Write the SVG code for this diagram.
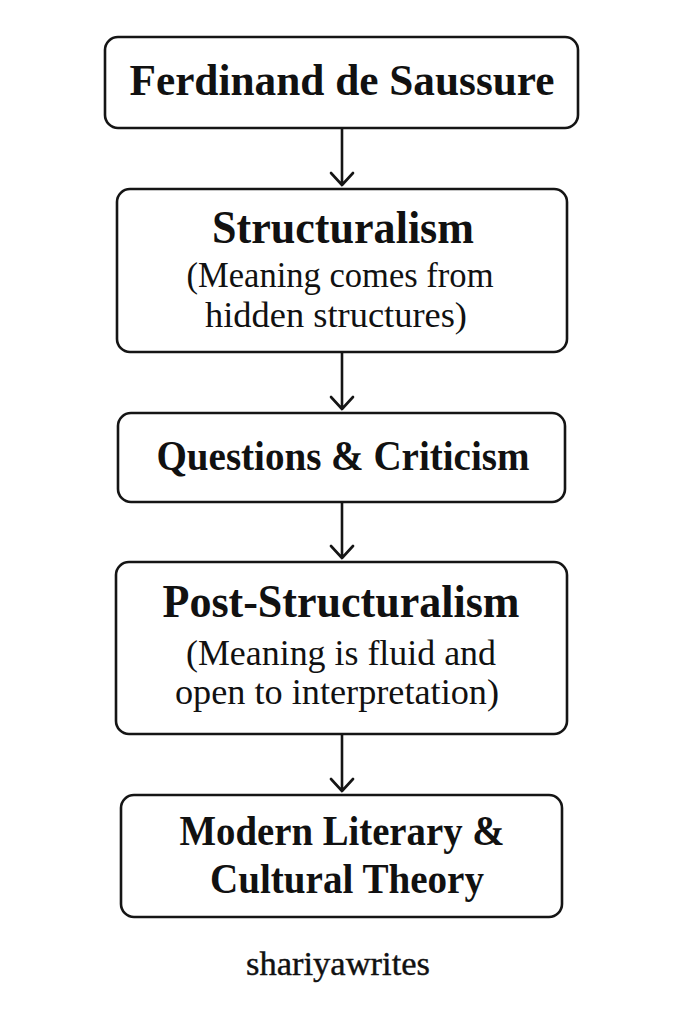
<svg xmlns="http://www.w3.org/2000/svg" width="683" height="1024" viewBox="0 0 683 1024">
<style>
.box{fill:#fff;stroke:#151515;stroke-width:2.6}
.t{font-family:"Liberation Serif","Times New Roman",serif;font-weight:bold;fill:#111;text-anchor:middle}
.s{font-family:"Liberation Serif","Times New Roman",serif;fill:#111;text-anchor:middle}
.c{fill:none;stroke:#151515;stroke-width:2.6;stroke-linecap:round;stroke-linejoin:round}
</style>
<rect width="683" height="1024" fill="#fff"/>
<g id="connectors">
<path class="c" d="M342 129V184M331 173L342 185L353 173"/>
<path class="c" d="M342 353V408M331 397L342 409L353 397"/>
<path class="c" d="M342 503V557M331 546L342 558L353 546"/>
<path class="c" d="M342 735V790M331 779L342 791L353 779"/>
</g>
<g id="n1">
<rect class="box" x="105" y="37" width="473" height="91" rx="13"/>
<text class="t" x="342" y="95" font-size="45" textLength="425" lengthAdjust="spacingAndGlyphs">Ferdinand de Saussure</text>
</g>
<g id="n2">
<rect class="box" x="117" y="189" width="450" height="163" rx="13"/>
<text class="t" x="343" y="243" font-size="46" textLength="262" lengthAdjust="spacingAndGlyphs">Structuralism</text>
<text class="s" x="340" y="287" font-size="36" textLength="307" lengthAdjust="spacingAndGlyphs">(Meaning comes from</text>
<text class="s" x="336" y="327" font-size="36" textLength="262" lengthAdjust="spacingAndGlyphs">hidden structures)</text>
</g>
<g id="n3">
<rect class="box" x="118" y="413" width="447" height="89" rx="13"/>
<text class="t" x="343" y="470" font-size="42" textLength="373" lengthAdjust="spacingAndGlyphs">Questions &amp; Criticism</text>
</g>
<g id="n4">
<rect class="box" x="116" y="562" width="451" height="172" rx="13"/>
<text class="t" x="341" y="617" font-size="46" textLength="357" lengthAdjust="spacingAndGlyphs">Post-Structuralism</text>
<text class="s" x="341" y="665" font-size="36" textLength="310" lengthAdjust="spacingAndGlyphs">(Meaning is fluid and</text>
<text class="s" x="337" y="704" font-size="36" textLength="324" lengthAdjust="spacingAndGlyphs">open to interpretation)</text>
</g>
<g id="n5">
<rect class="box" x="121" y="795" width="441" height="122" rx="13"/>
<text class="t" x="342" y="845" font-size="42" textLength="325" lengthAdjust="spacingAndGlyphs">Modern Literary &amp;</text>
<text class="t" x="347" y="893" font-size="42" textLength="274" lengthAdjust="spacingAndGlyphs">Cultural Theory</text>
</g>
<text class="s" x="338" y="975" font-size="34" textLength="184" lengthAdjust="spacingAndGlyphs" stroke="#111" stroke-width="0.4">shariyawrites</text>
</svg>
